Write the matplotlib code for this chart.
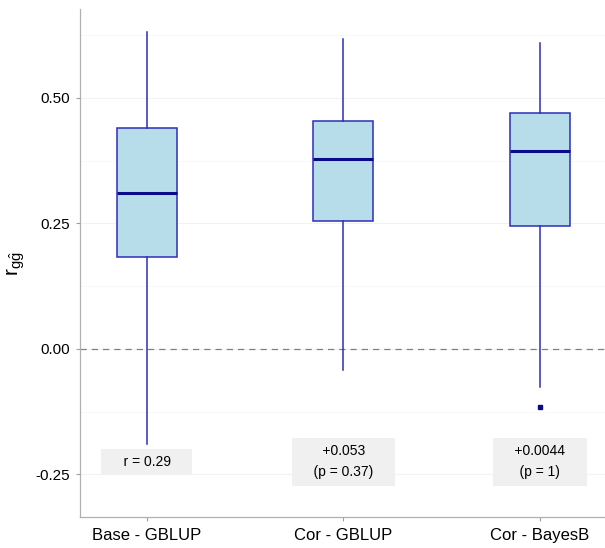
import matplotlib
matplotlib.use('Agg')
import matplotlib.pyplot as plt

plt.rcParams['font.family'] = ['Liberation Sans', 'DejaVu Sans']

# ── data ──
groups = ['Base - GBLUP', 'Cor - GBLUP', 'Cor - BayesB']
whislo = [-0.189, -0.042, -0.076]
q1 = [0.183, 0.254, 0.245]
med = [0.311, 0.378, 0.394]
q3 = [0.440, 0.454, 0.470]
whishi = [0.631, 0.617, 0.610]
fliers = [[], [], [-0.116]]
notes = ['r = 0.29', '+0.053\n(p = 0.37)', '+0.0044\n(p = 1)']
note_y = -0.225

fig = plt.figure(figsize=(6.05, 5.48), dpi=100)
ax = fig.add_axes([80 / 605, 1 - 517 / 548, 1 - 80 / 605, (517 - 9) / 548])

stats = []
for i, g in enumerate(groups):
    stats.append(dict(label=g, whislo=whislo[i], q1=q1[i], med=med[i],
                      q3=q3[i], whishi=whishi[i], fliers=fliers[i]))

edge = '#2e2eb8'
ax.bxp(stats, positions=[1, 2, 3], widths=0.305, patch_artist=True,
       showcaps=False,
       boxprops=dict(facecolor='#b7dcea', edgecolor=edge, linewidth=1.1),
       whiskerprops=dict(color=edge, linewidth=1.1),
       medianprops=dict(color='#0a0a8a', linewidth=2.2),
       flierprops=dict(marker='s', markersize=3, markerfacecolor='#0a0a8a',
                       markeredgecolor='#0a0a8a'), zorder=3)

ax.axhline(0, color='#808080', linestyle=(0, (5, 4)), linewidth=0.9, zorder=2)

# label boxes: spaces widen the grey box sideways like ggplot's labels
for i, t in enumerate(notes):
    padded = '\n'.join('    ' + ln + '    ' for ln in t.split('\n'))
    ax.text(i + 1, note_y, padded, ha='center', va='center', fontsize=10,
            linespacing=1.65, zorder=4,
            bbox=dict(boxstyle='square,pad=0.45', facecolor='#f0f0f0',
                      edgecolor='none'))

ax.set_xlim(0.66, 3.33)
ax.set_ylim(-0.335, 0.677)
ax.set_yticks([-0.25, 0, 0.25, 0.5])
ax.set_yticklabels(['-0.25', '0.00', '0.25', '0.50'])
ax.set_yticks([-0.125, 0.125, 0.375, 0.625], minor=True)
ax.set_xticks([1, 2, 3])
ax.set_xticklabels(groups)
ax.grid(True, which='major', axis='y', color='#f2f2f2', linewidth=0.8)
ax.grid(True, which='minor', axis='y', color='#f7f7f7', linewidth=0.6)
ax.set_axisbelow(True)

ax.tick_params(axis='y', which='major', length=3, color='#a0a0a0',
               labelsize=11, labelcolor='black', pad=4)
ax.tick_params(axis='y', which='minor', length=0)
ax.tick_params(axis='x', length=3, color='#a0a0a0', labelsize=12,
               labelcolor='black', pad=5)

for s in ['top', 'right']:
    ax.spines[s].set_visible(False)
for s in ['left', 'bottom']:
    ax.spines[s].set_color('#b0b0b0')
    ax.spines[s].set_linewidth(0.9)

ax.set_ylabel(r'$\mathregular{r_{g\hat{g}}}$', fontsize=15, labelpad=6)

fig.savefig('out.png', dpi=100, facecolor='white')
